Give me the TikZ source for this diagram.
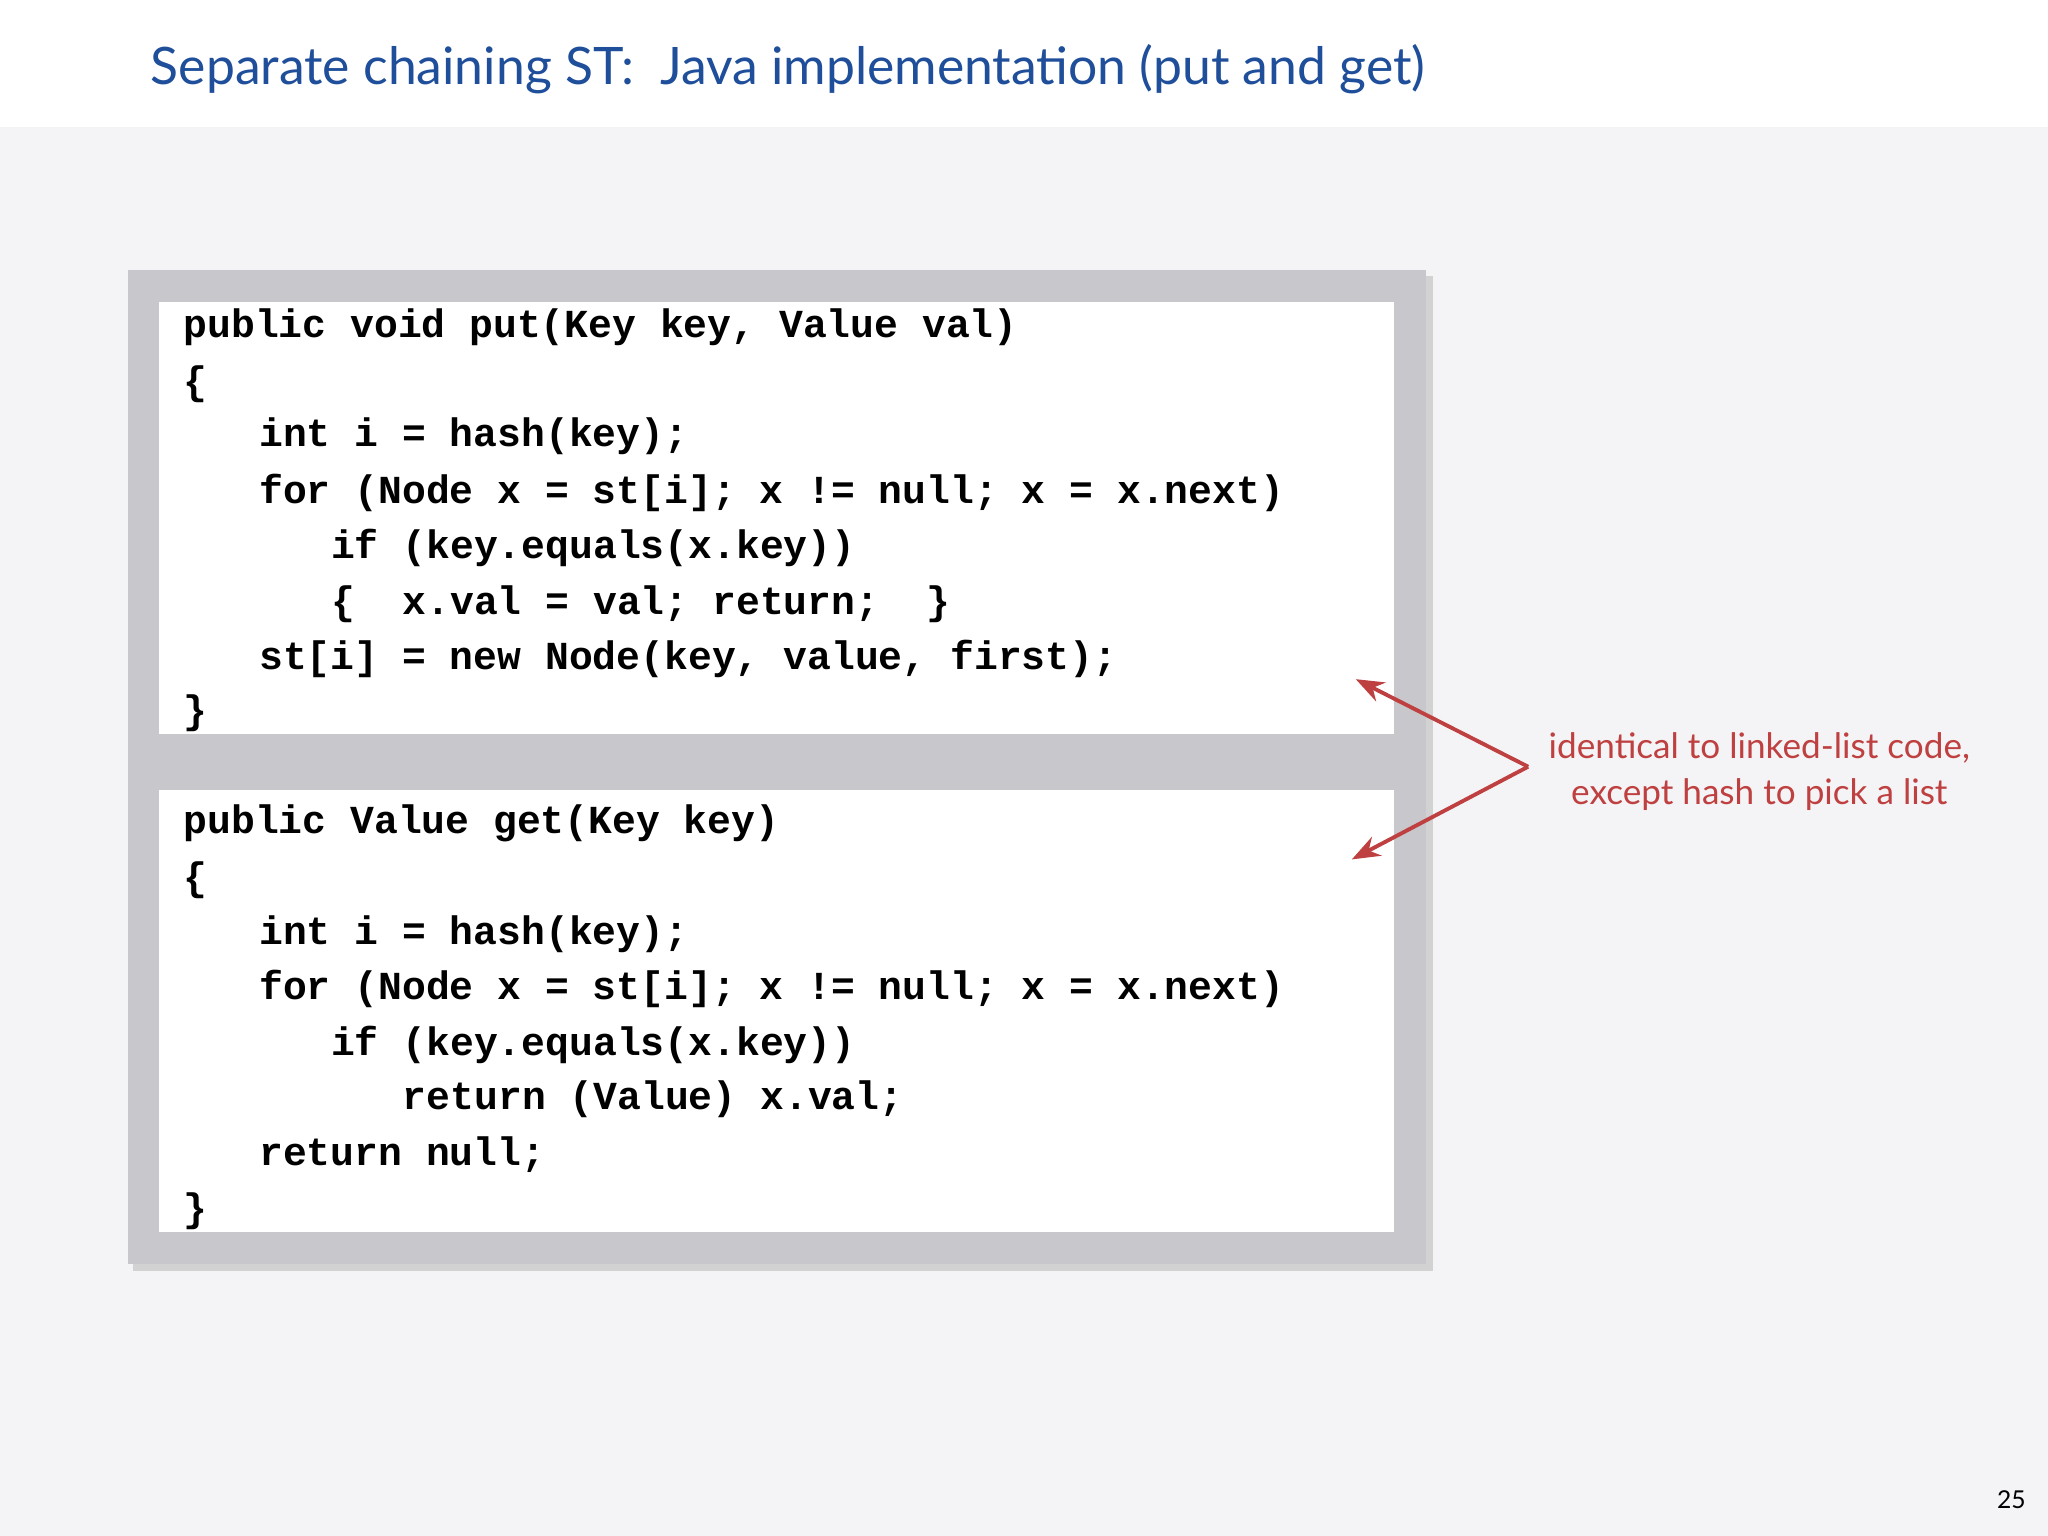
\documentclass[tikz,border=0pt]{standalone}
\usepackage{fontspec}
\usetikzlibrary{arrows.meta}
\setmainfont{Lato}
\setmonofont{Liberation Mono}
\begin{document}
\begin{tikzpicture}[x=0.01306cm,y=-0.01306cm,
  code/.style={anchor=west,inner sep=0pt,font=\fontsize{11.3pt}{12pt}\ttfamily\bfseries},
  note/.style={text=notered,font=\fontsize{10pt}{12pt}\selectfont},
  arr/.style={draw=notered,line width=1.1pt,-{Stealth[length=8pt,width=6pt]}}]
\definecolor{bg}{HTML}{F4F4F6}
\definecolor{frame}{HTML}{C8C7CB}
\definecolor{titleblue}{HTML}{1F4E9A}
\definecolor{notered}{HTML}{BF4040}
\useasboundingbox (0,0) rectangle (1568,1176);
\fill[bg] (0,0) rectangle (1568,1176);
\fill[white] (0,0) rectangle (1568,97);
\node[anchor=west,text=titleblue,font=\fontsize{14.7pt}{18pt}\selectfont] (title) at (106,53) {Separate chaining ST:\ \ Java implementation (put and get)};
% frame with shadow
\fill[black!30,opacity=0.5] (102,211) rectangle (1097,973);
\fill[frame] (98,207) rectangle (1092,968);
\fill[white] (122,231) rectangle (1067,562);
\fill[white] (122,605) rectangle (1067,943);
\begin{scope}[yshift=-0.03cm]
\node[code] (p1) at (140,248) {public void put(Key key, Value val)};
\node[code] (p2) at (140,292) {\{};
\node[code] (p3) at (198,332) {int i = hash(key);};
\node[code] (p4) at (198,375) {for (Node x = st[i]; x != null; x = x.next)};
\node[code] (p5) at (253,417) {if (key.equals(x.key))};
\node[code] (p6) at (253,460) {\{\ \ x.val = val; return;\ \ \}};
\node[code] (p7) at (198,502) {st[i] = new Node(key, value, first);};
\node[code] (p8) at (140,544) {\}};
\node[code] (g1) at (140,628) {public Value get(Key key)};
\node[code] (g2) at (140,672) {\{};
\node[code] (g3) at (198,713) {int i = hash(key);};
\node[code] (g4) at (198,755) {for (Node x = st[i]; x != null; x = x.next)};
\node[code] (g5) at (253,798) {if (key.equals(x.key))};
\node[code] (g6) at (308,839) {return (Value) x.val;};
\node[code] (g7) at (198,882) {return null;};
\node[code] (g8) at (140,925) {\}};
\end{scope}
\coordinate (tip) at (1170,587);
\coordinate (t1) at (1038,520);
\coordinate (t2) at (1035,658);
\draw[arr] (tip) -- (t1);
\draw[arr] (tip) -- (t2);
\node[note] (n1) at (1347,573) {identical to linked-list code,};
\node[note] (n2) at (1347,608) {except hash to pick a list};
\node[font=\fontsize{7pt}{8pt}\selectfont] (pg) at (1540,1148) {25};
\end{tikzpicture}
\end{document}
